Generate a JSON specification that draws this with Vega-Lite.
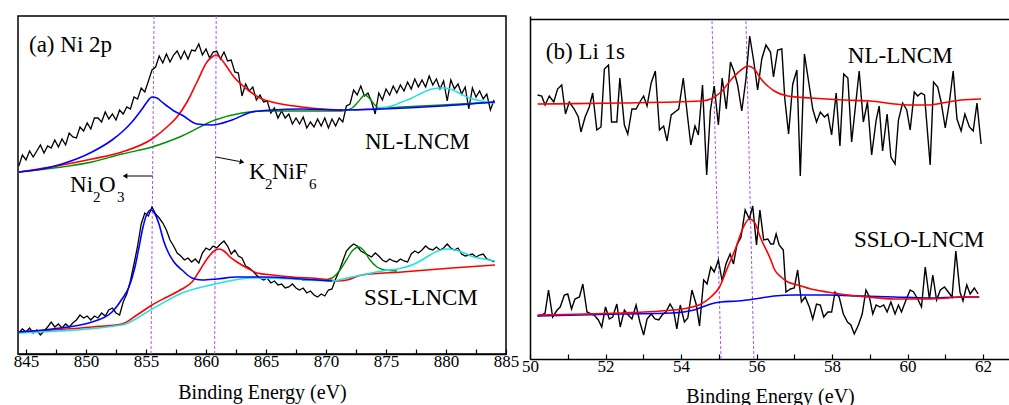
{
"$schema": "https://vega.github.io/schema/vega-lite/v6.json",
"background": "white",
"padding": {"left": 12, "top": 14, "right": 0, "bottom": 0},
"spacing": 24,
"bounds": "flush",
"config": {
 "font": "Liberation Serif",
 "view": {"stroke": null},
 "axis": {"domainColor": "black", "domainWidth": 1.5, "tickColor": "black", "tickWidth": 1.2, "tickSize": -5, "labelFont": "Liberation Serif", "labelFontSize": 17, "labelColor": "black", "titleFont": "Liberation Serif", "titleFontSize": 20, "titleFontWeight": "normal", "titleColor": "black", "grid": false}
},
"datasets": {
 "aDash": [{"e0": 855.42, "i0": 0, "e1": 855.67, "i1": 338}, {"e0": 860.72, "i0": 0, "e1": 860.85, "i1": 338}],
 "aArrow": [{"e0": 855.56, "i0": 178, "e1": 853.4, "i1": 178}, {"e0": 860.83, "i0": 197, "e1": 862.8, "i1": 192.5}],
 "aHeadL": [{"e": 853.25, "i": 178}],
 "aHeadR": [{"e": 863.0, "i": 192}],
 "aText": [{"t": "(a) Ni 2p", "e": 845.25, "i": 302}, {"t": "NL-LNCM", "e": 873.25, "i": 205}, {"t": "SSL-LNCM", "e": 873.17, "i": 49}, {"t": "K", "e": 863.58, "i": 175}, {"t": "NiF", "e": 865.5, "i": 175}, {"t": "Ni", "e": 848.67, "i": 162}, {"t": "O", "e": 851.08, "i": 162}],
 "aSub": [{"t": "2", "e": 864.92, "i": 165}, {"t": "6", "e": 868.58, "i": 165}, {"t": "2", "e": 850.58, "i": 152}, {"t": "3", "e": 852.58, "i": 152}],
 "aT": [{"e":844.4,"i":188},{"e":844.7,"i":199},{"e":845.0,"i":194},{"e":845.3,"i":203},{"e":845.6,"i":197},{"e":845.9,"i":203},{"e":846.2,"i":209},{"e":846.5,"i":201},{"e":846.8,"i":208},{"e":847.1,"i":206},{"e":847.4,"i":214},{"e":847.7,"i":207},{"e":848.0,"i":215},{"e":848.3,"i":209},{"e":848.6,"i":221},{"e":848.9,"i":217},{"e":849.2,"i":216},{"e":849.5,"i":227},{"e":849.8,"i":223},{"e":850.1,"i":231},{"e":850.4,"i":225},{"e":850.7,"i":236},{"e":851.0,"i":236},{"e":851.3,"i":232},{"e":851.6,"i":242},{"e":851.9,"i":235},{"e":852.2,"i":240},{"e":852.5,"i":234},{"e":852.8,"i":244},{"e":853.1,"i":240},{"e":853.4,"i":247},{"e":853.7,"i":245},{"e":854.0,"i":257},{"e":854.3,"i":255},{"e":854.6,"i":266},{"e":854.9,"i":262},{"e":855.2,"i":273},{"e":855.5,"i":284},{"e":855.8,"i":287},{"e":856.1,"i":298},{"e":856.4,"i":291},{"e":856.7,"i":300},{"e":857.0,"i":292},{"e":857.3,"i":299},{"e":857.6,"i":303},{"e":857.9,"i":295},{"e":858.2,"i":303},{"e":858.5,"i":295},{"e":858.8,"i":304},{"e":859.1,"i":303},{"e":859.4,"i":310},{"e":859.7,"i":299},{"e":860.0,"i":305},{"e":860.3,"i":296},{"e":860.6,"i":302},{"e":860.9,"i":303},{"e":861.2,"i":295},{"e":861.5,"i":302},{"e":861.8,"i":293},{"e":862.1,"i":294},{"e":862.4,"i":282},{"e":862.7,"i":281},{"e":863.0,"i":258},{"e":863.3,"i":270},{"e":863.6,"i":263},{"e":863.9,"i":267},{"e":864.2,"i":254},{"e":864.5,"i":259},{"e":864.8,"i":252},{"e":865.1,"i":253},{"e":865.4,"i":241},{"e":865.7,"i":246},{"e":866.0,"i":236},{"e":866.3,"i":243},{"e":866.6,"i":236},{"e":866.9,"i":240},{"e":867.2,"i":230},{"e":867.5,"i":236},{"e":867.8,"i":230},{"e":868.1,"i":237},{"e":868.4,"i":226},{"e":868.7,"i":232},{"e":869.0,"i":227},{"e":869.3,"i":235},{"e":869.6,"i":228},{"e":869.9,"i":236},{"e":870.2,"i":226},{"e":870.5,"i":235},{"e":870.8,"i":228},{"e":871.1,"i":236},{"e":871.4,"i":232},{"e":871.7,"i":248},{"e":872.0,"i":250},{"e":872.3,"i":264},{"e":872.6,"i":259},{"e":872.9,"i":268},{"e":873.2,"i":258},{"e":873.5,"i":261},{"e":873.8,"i":252},{"e":874.1,"i":240},{"e":874.4,"i":261},{"e":874.7,"i":254},{"e":875.0,"i":265},{"e":875.3,"i":259},{"e":875.6,"i":268},{"e":875.9,"i":261},{"e":876.2,"i":269},{"e":876.5,"i":263},{"e":876.8,"i":272},{"e":877.1,"i":265},{"e":877.4,"i":275},{"e":877.7,"i":267},{"e":878.0,"i":274},{"e":878.3,"i":267},{"e":878.6,"i":278},{"e":878.9,"i":269},{"e":879.2,"i":275},{"e":879.5,"i":265},{"e":879.8,"i":273},{"e":880.1,"i":253},{"e":880.4,"i":274},{"e":880.7,"i":265},{"e":881.0,"i":270},{"e":881.3,"i":260},{"e":881.6,"i":267},{"e":881.9,"i":245},{"e":882.2,"i":266},{"e":882.5,"i":257},{"e":882.8,"i":263},{"e":883.1,"i":255},{"e":883.4,"i":260},{"e":883.7,"i":244},{"e":884.0,"i":254}],
 "aB": [{"e":844.4,"i":21},{"e":844.7,"i":25},{"e":845.0,"i":22},{"e":845.3,"i":26},{"e":845.6,"i":21},{"e":845.9,"i":24},{"e":846.2,"i":19},{"e":846.5,"i":23},{"e":846.8,"i":27},{"e":847.1,"i":32},{"e":847.4,"i":27},{"e":847.7,"i":30},{"e":848.0,"i":26},{"e":848.3,"i":30},{"e":848.6,"i":27},{"e":848.9,"i":31},{"e":849.2,"i":34},{"e":849.5,"i":39},{"e":849.8,"i":36},{"e":850.1,"i":38},{"e":850.4,"i":34},{"e":850.7,"i":38},{"e":851.0,"i":36},{"e":851.3,"i":41},{"e":851.6,"i":38},{"e":851.9,"i":44},{"e":852.2,"i":46},{"e":852.5,"i":41},{"e":852.8,"i":39},{"e":853.1,"i":52},{"e":853.4,"i":60},{"e":853.7,"i":73},{"e":854.0,"i":90},{"e":854.3,"i":108},{"e":854.6,"i":130},{"e":854.9,"i":141},{"e":855.2,"i":138},{"e":855.5,"i":147},{"e":855.8,"i":140},{"e":856.1,"i":136},{"e":856.4,"i":131},{"e":856.7,"i":124},{"e":857.0,"i":114},{"e":857.3,"i":108},{"e":857.6,"i":101},{"e":857.9,"i":98},{"e":858.2,"i":94},{"e":858.5,"i":96},{"e":858.8,"i":92},{"e":859.1,"i":95},{"e":859.4,"i":91},{"e":859.7,"i":101},{"e":860.0,"i":106},{"e":860.3,"i":104},{"e":860.6,"i":108},{"e":860.9,"i":106},{"e":861.2,"i":110},{"e":861.5,"i":113},{"e":861.8,"i":108},{"e":862.1,"i":100},{"e":862.4,"i":104},{"e":862.7,"i":98},{"e":863.0,"i":96},{"e":863.3,"i":88},{"e":863.6,"i":86},{"e":863.9,"i":83},{"e":864.2,"i":79},{"e":864.5,"i":76},{"e":864.8,"i":74},{"e":865.1,"i":76},{"e":865.4,"i":71},{"e":865.7,"i":73},{"e":866.0,"i":69},{"e":866.3,"i":70},{"e":866.6,"i":66},{"e":866.9,"i":67},{"e":867.2,"i":70},{"e":867.5,"i":66},{"e":867.8,"i":64},{"e":868.1,"i":66},{"e":868.4,"i":61},{"e":868.7,"i":63},{"e":869.0,"i":59},{"e":869.3,"i":57},{"e":869.6,"i":60},{"e":869.9,"i":58},{"e":870.2,"i":64},{"e":870.5,"i":65},{"e":870.8,"i":75},{"e":871.1,"i":83},{"e":871.4,"i":93},{"e":871.7,"i":103},{"e":872.0,"i":107},{"e":872.3,"i":110},{"e":872.6,"i":108},{"e":872.9,"i":103},{"e":873.2,"i":101},{"e":873.5,"i":99},{"e":873.8,"i":97},{"e":874.1,"i":101},{"e":874.4,"i":98},{"e":874.7,"i":94},{"e":875.0,"i":92},{"e":875.3,"i":95},{"e":875.6,"i":93},{"e":875.9,"i":92},{"e":876.2,"i":95},{"e":876.5,"i":93},{"e":876.8,"i":92},{"e":877.1,"i":100},{"e":877.4,"i":103},{"e":877.7,"i":101},{"e":878.0,"i":104},{"e":878.3,"i":108},{"e":878.6,"i":105},{"e":878.9,"i":104},{"e":879.2,"i":107},{"e":879.5,"i":104},{"e":879.8,"i":106},{"e":880.1,"i":110},{"e":880.4,"i":106},{"e":880.7,"i":104},{"e":881.0,"i":106},{"e":881.3,"i":100},{"e":881.6,"i":98},{"e":881.9,"i":99},{"e":882.2,"i":100},{"e":882.5,"i":97},{"e":882.8,"i":99},{"e":883.1,"i":100},{"e":883.4,"i":95},{"e":883.7,"i":94},{"e":884.0,"i":92}],
 "aTblue": [{"e":844.4,"i":182},{"e":846.33,"i":185},{"e":848.0,"i":190},{"e":850.5,"i":202},{"e":852.17,"i":214},{"e":853.0,"i":222},{"e":853.83,"i":232},{"e":854.67,"i":245},{"e":855.08,"i":252},{"e":855.5,"i":257},{"e":855.92,"i":256},{"e":856.33,"i":252},{"e":856.75,"i":248},{"e":857.33,"i":243},{"e":858.0,"i":239},{"e":859.25,"i":230},{"e":860.5,"i":229},{"e":862.17,"i":234},{"e":863.83,"i":242},{"e":865.5,"i":244},{"e":868.0,"i":245},{"e":871.33,"i":244},{"e":874.67,"i":245},{"e":879.67,"i":248},{"e":884.08,"i":252}],
 "aTred": [{"e":844.4,"i":182},{"e":848.0,"i":189},{"e":850.5,"i":195},{"e":853.0,"i":202},{"e":855.5,"i":215},{"e":856.75,"i":227},{"e":857.58,"i":237},{"e":858.42,"i":252},{"e":859.25,"i":272},{"e":860.08,"i":292},{"e":860.5,"i":297},{"e":860.83,"i":299},{"e":861.33,"i":294},{"e":861.75,"i":287},{"e":862.33,"i":277},{"e":863.0,"i":269},{"e":863.83,"i":261},{"e":864.67,"i":255},{"e":865.5,"i":252},{"e":866.75,"i":249},{"e":868.0,"i":247},{"e":869.67,"i":245},{"e":871.33,"i":244}],
 "aTgreen": [{"e":844.4,"i":182},{"e":848.0,"i":187},{"e":850.5,"i":192},{"e":853.0,"i":200},{"e":855.5,"i":207},{"e":858.0,"i":218},{"e":860.75,"i":234},{"e":863.0,"i":241},{"e":864.67,"i":243},{"e":868.0,"i":243},{"e":871.33,"i":243},{"e":872.17,"i":246},{"e":872.67,"i":252},{"e":873.25,"i":259},{"e":873.67,"i":255},{"e":874.08,"i":249},{"e":874.5,"i":246},{"e":876.33,"i":247},{"e":879.67,"i":249},{"e":884.08,"i":252}],
 "aTcyan": [{"e":874.25,"i":246},{"e":875.5,"i":248},{"e":876.33,"i":252},{"e":877.17,"i":256},{"e":878.0,"i":261},{"e":878.83,"i":265},{"e":879.67,"i":266},{"e":880.33,"i":265},{"e":880.92,"i":262},{"e":881.75,"i":257},{"e":882.58,"i":254},{"e":883.42,"i":252},{"e":884.08,"i":251}],
 "aBblue": [{"e":844.4,"i":22},{"e":847.17,"i":25},{"e":850.5,"i":32},{"e":852.17,"i":42},{"e":853.0,"i":55},{"e":853.58,"i":67},{"e":854.08,"i":87},{"e":854.42,"i":107},{"e":854.75,"i":127},{"e":855.08,"i":140},{"e":855.42,"i":144},{"e":855.75,"i":140},{"e":856.08,"i":130},{"e":856.5,"i":112},{"e":856.92,"i":100},{"e":857.33,"i":92},{"e":858.0,"i":84},{"e":858.83,"i":76},{"e":859.67,"i":74},{"e":860.92,"i":75},{"e":862.58,"i":77},{"e":864.83,"i":77},{"e":868.0,"i":75},{"e":870.5,"i":73}],
 "aBred": [{"e":844.4,"i":22},{"e":850.5,"i":27},{"e":853.0,"i":30},{"e":854.25,"i":39},{"e":855.5,"i":49},{"e":856.75,"i":57},{"e":858.0,"i":65},{"e":858.83,"i":72},{"e":859.5,"i":84},{"e":860.08,"i":95},{"e":860.67,"i":103},{"e":861.08,"i":105},{"e":861.5,"i":103},{"e":862.0,"i":97},{"e":862.58,"i":92},{"e":863.42,"i":86},{"e":864.25,"i":81},{"e":865.5,"i":79},{"e":867.17,"i":77},{"e":869.67,"i":75},{"e":870.92,"i":73},{"e":871.75,"i":74},{"e":873.0,"i":79},{"e":876.33,"i":82},{"e":880.5,"i":86},{"e":884.08,"i":89}],
 "aBcyan": [{"e":844.4,"i":21},{"e":853.0,"i":29},{"e":855.5,"i":45},{"e":858.0,"i":61},{"e":860.75,"i":70},{"e":863.83,"i":76},{"e":867.17,"i":75},{"e":870.5,"i":73},{"e":871.75,"i":76},{"e":873.0,"i":79},{"e":874.67,"i":83},{"e":876.33,"i":86},{"e":877.17,"i":89},{"e":878.0,"i":94},{"e":878.67,"i":99},{"e":879.33,"i":103},{"e":880.08,"i":105},{"e":880.75,"i":104},{"e":881.5,"i":101},{"e":882.33,"i":97},{"e":883.17,"i":95},{"e":884.08,"i":93}],
 "aBgreen": [{"e":868.0,"i":74},{"e":869.67,"i":74},{"e":870.5,"i":76},{"e":871.17,"i":84},{"e":871.75,"i":95},{"e":872.25,"i":104},{"e":872.75,"i":107},{"e":873.17,"i":103},{"e":873.67,"i":94},{"e":874.25,"i":87},{"e":874.92,"i":84},{"e":875.92,"i":83}],
 "bDash": [{"e0": 55.06, "i0": 0, "e1": 54.82, "i1": 340}, {"e0": 55.93, "i0": 0, "e1": 55.72, "i1": 340}],
 "bText": [{"t": "(b) Li 1s", "e": 50.42, "i": 300}, {"t": "NL-LNCM", "e": 58.42, "i": 296}, {"t": "SSLO-LNCM", "e": 58.58, "i": 112}],
 "bT": [{"e":50.20,"i":264},{"e":50.31,"i":263},{"e":50.40,"i":254},{"e":50.51,"i":263},{"e":50.63,"i":257},{"e":50.73,"i":270},{"e":50.84,"i":274},{"e":50.94,"i":245},{"e":51.04,"i":257},{"e":51.17,"i":250},{"e":51.28,"i":242},{"e":51.35,"i":227},{"e":51.46,"i":242},{"e":51.57,"i":252},{"e":51.66,"i":266},{"e":51.77,"i":229},{"e":51.88,"i":232},{"e":51.97,"i":290},{"e":52.08,"i":294},{"e":52.16,"i":237},{"e":52.30,"i":237},{"e":52.38,"i":281},{"e":52.50,"i":234},{"e":52.59,"i":225},{"e":52.70,"i":250},{"e":52.81,"i":250},{"e":52.91,"i":257},{"e":53.01,"i":263},{"e":53.10,"i":253},{"e":53.21,"i":276},{"e":53.32,"i":288},{"e":53.43,"i":229},{"e":53.54,"i":233},{"e":53.63,"i":218},{"e":53.74,"i":244},{"e":53.84,"i":247},{"e":53.94,"i":250},{"e":54.06,"i":281},{"e":54.16,"i":247},{"e":54.26,"i":214},{"e":54.37,"i":233},{"e":54.46,"i":224},{"e":54.57,"i":274},{"e":54.68,"i":184},{"e":54.78,"i":249},{"e":54.88,"i":273},{"e":54.99,"i":234},{"e":55.09,"i":281},{"e":55.20,"i":250},{"e":55.31,"i":297},{"e":55.41,"i":287},{"e":55.50,"i":274},{"e":55.61,"i":248},{"e":55.72,"i":280},{"e":55.82,"i":323},{"e":55.93,"i":297},{"e":56.03,"i":269},{"e":56.14,"i":300},{"e":56.25,"i":314},{"e":56.37,"i":307},{"e":56.45,"i":282},{"e":56.56,"i":309},{"e":56.67,"i":310},{"e":56.75,"i":260},{"e":56.85,"i":225},{"e":56.96,"i":275},{"e":57.07,"i":289},{"e":57.16,"i":183},{"e":57.27,"i":305},{"e":57.37,"i":280},{"e":57.49,"i":250},{"e":57.59,"i":237},{"e":57.69,"i":247},{"e":57.80,"i":242},{"e":57.89,"i":245},{"e":57.99,"i":224},{"e":58.11,"i":266},{"e":58.21,"i":213},{"e":58.31,"i":285},{"e":58.42,"i":281},{"e":58.52,"i":217},{"e":58.72,"i":288},{"e":58.83,"i":237},{"e":58.94,"i":257},{"e":59.05,"i":204},{"e":59.17,"i":239},{"e":59.25,"i":253},{"e":59.34,"i":208},{"e":59.46,"i":245},{"e":59.56,"i":202},{"e":59.67,"i":195},{"e":59.76,"i":239},{"e":59.87,"i":256},{"e":59.98,"i":249},{"e":60.07,"i":229},{"e":60.18,"i":267},{"e":60.27,"i":263},{"e":60.36,"i":266},{"e":60.45,"i":264},{"e":60.60,"i":194},{"e":60.69,"i":277},{"e":60.80,"i":272},{"e":60.89,"i":257},{"e":61.00,"i":231},{"e":61.11,"i":257},{"e":61.21,"i":288},{"e":61.31,"i":240},{"e":61.42,"i":228},{"e":61.52,"i":245},{"e":61.64,"i":232},{"e":61.74,"i":228},{"e":61.84,"i":256},{"e":61.95,"i":215}],
 "bTred": [{"e":50.20,"i":255},{"e":52.41,"i":256},{"e":54.53,"i":258},{"e":54.79,"i":260},{"e":55.06,"i":267},{"e":55.32,"i":279},{"e":55.59,"i":289},{"e":55.77,"i":293},{"e":55.94,"i":290},{"e":56.12,"i":280},{"e":56.33,"i":272},{"e":56.47,"i":268},{"e":56.83,"i":263},{"e":57.44,"i":261},{"e":58.33,"i":259},{"e":59.03,"i":258},{"e":59.65,"i":255},{"e":60.09,"i":254},{"e":60.54,"i":254},{"e":61.07,"i":257},{"e":61.42,"i":259},{"e":61.95,"i":260}],
 "bB": [{"e":50.20,"i":43},{"e":50.31,"i":44},{"e":50.40,"i":46},{"e":50.49,"i":69},{"e":50.60,"i":42},{"e":50.72,"i":49},{"e":50.80,"i":52},{"e":50.91,"i":64},{"e":51.00,"i":65},{"e":51.10,"i":50},{"e":51.19,"i":60},{"e":51.31,"i":62},{"e":51.40,"i":75},{"e":51.51,"i":47},{"e":51.62,"i":45},{"e":51.70,"i":44},{"e":51.81,"i":39},{"e":51.90,"i":32},{"e":52.00,"i":52},{"e":52.10,"i":40},{"e":52.19,"i":42},{"e":52.30,"i":55},{"e":52.39,"i":32},{"e":52.50,"i":49},{"e":52.60,"i":44},{"e":52.70,"i":40},{"e":52.81,"i":54},{"e":52.91,"i":37},{"e":53.01,"i":24},{"e":53.10,"i":40},{"e":53.21,"i":45},{"e":53.31,"i":40},{"e":53.41,"i":39},{"e":53.50,"i":44},{"e":53.60,"i":47},{"e":53.71,"i":55},{"e":53.80,"i":49},{"e":53.89,"i":30},{"e":53.98,"i":54},{"e":54.09,"i":37},{"e":54.18,"i":41},{"e":54.29,"i":69},{"e":54.40,"i":55},{"e":54.49,"i":33},{"e":54.60,"i":79},{"e":54.69,"i":75},{"e":54.79,"i":92},{"e":54.88,"i":87},{"e":54.99,"i":99},{"e":55.09,"i":78},{"e":55.19,"i":95},{"e":55.30,"i":105},{"e":55.39,"i":95},{"e":55.48,"i":114},{"e":55.59,"i":122},{"e":55.70,"i":149},{"e":55.81,"i":140},{"e":55.90,"i":153},{"e":56.00,"i":114},{"e":56.09,"i":149},{"e":56.19,"i":119},{"e":56.30,"i":120},{"e":56.38,"i":115},{"e":56.45,"i":115},{"e":56.52,"i":125},{"e":56.60,"i":114},{"e":56.71,"i":109},{"e":56.78,"i":67},{"e":56.90,"i":70},{"e":57.00,"i":71},{"e":57.09,"i":89},{"e":57.19,"i":57},{"e":57.29,"i":62},{"e":57.40,"i":52},{"e":57.49,"i":40},{"e":57.59,"i":55},{"e":57.69,"i":54},{"e":57.78,"i":42},{"e":57.89,"i":47},{"e":57.99,"i":47},{"e":58.08,"i":67},{"e":58.19,"i":62},{"e":58.30,"i":45},{"e":58.41,"i":37},{"e":58.50,"i":34},{"e":58.59,"i":25},{"e":58.70,"i":34},{"e":58.80,"i":45},{"e":58.90,"i":69},{"e":58.99,"i":62},{"e":59.08,"i":45},{"e":59.17,"i":54},{"e":59.27,"i":52},{"e":59.37,"i":54},{"e":59.46,"i":47},{"e":59.56,"i":57},{"e":59.67,"i":45},{"e":59.76,"i":54},{"e":59.84,"i":47},{"e":59.96,"i":59},{"e":60.07,"i":69},{"e":60.16,"i":67},{"e":60.27,"i":60},{"e":60.37,"i":52},{"e":60.47,"i":92},{"e":60.58,"i":60},{"e":60.67,"i":84},{"e":60.77,"i":59},{"e":60.87,"i":69},{"e":60.98,"i":72},{"e":61.08,"i":67},{"e":61.18,"i":62},{"e":61.28,"i":108},{"e":61.39,"i":67},{"e":61.47,"i":58},{"e":61.57,"i":74},{"e":61.66,"i":65},{"e":61.77,"i":71},{"e":61.87,"i":65}],
 "bBred": [{"e":50.20,"i":44},{"e":52.41,"i":46},{"e":53.47,"i":48},{"e":54.18,"i":51},{"e":54.53,"i":55},{"e":54.79,"i":62},{"e":55.02,"i":72},{"e":55.24,"i":92},{"e":55.46,"i":112},{"e":55.63,"i":130},{"e":55.81,"i":140},{"e":55.94,"i":137},{"e":56.12,"i":120},{"e":56.38,"i":99},{"e":56.47,"i":90},{"e":56.65,"i":82},{"e":56.83,"i":77},{"e":57.09,"i":74},{"e":57.44,"i":70},{"e":57.88,"i":67},{"e":58.41,"i":64},{"e":58.94,"i":62},{"e":59.65,"i":60},{"e":60.09,"i":60},{"e":60.54,"i":60},{"e":61.07,"i":61},{"e":61.42,"i":62},{"e":61.90,"i":62}],
 "bBblue": [{"e":50.20,"i":43},{"e":52.41,"i":45},{"e":53.74,"i":46},{"e":54.35,"i":49},{"e":54.57,"i":52},{"e":54.79,"i":55},{"e":55.06,"i":57},{"e":55.50,"i":58},{"e":55.94,"i":60},{"e":56.12,"i":61},{"e":56.47,"i":63},{"e":57.00,"i":64},{"e":57.88,"i":64},{"e":58.77,"i":63},{"e":59.65,"i":62},{"e":60.54,"i":61},{"e":61.42,"i":62},{"e":61.90,"i":62}]
},
"hconcat": [
 {
  "width": 488, "height": 338,
  "view": {"stroke": "black", "strokeWidth": 1.5},
  "resolve": {"axis": {"x": "independent", "y": "independent"}},
  "layer": [
   {"data": {"name": "aDash"}, "mark": {"type": "rule", "color": "#a855f7", "strokeDash": [3, 2], "strokeWidth": 1},
    "encoding": {
     "x": {"field": "e0", "type": "quantitative", "scale": {"domain": [844.333, 885], "nice": false, "zero": false}, "axis": {"orient": "bottom", "title": "Binding Energy (eV)", "values": [845,847.5,850,852.5,855,857.5,860,862.5,865,867.5,870,872.5,875,877.5,880,882.5,885], "labelExpr": "datum.value % 5 === 0 ? datum.label : ''", "labelFlush": false, "labelOverlap": false, "labelPadding": 4, "titlePadding": 13, "labelFont": "Liberation Serif", "titleFont": "Liberation Serif", "labelFontSize": 17, "titleFontSize": 20}},
     "x2": {"field": "e1"},
     "y": {"field": "i0", "type": "quantitative", "scale": {"domain": [0, 338], "nice": false, "zero": false}, "axis": null},
     "y2": {"field": "i1"}}},
   {"data": {"name": "aT"}, "mark": {"type": "line", "color": "black", "strokeWidth": 1.3},
    "encoding": {"x": {"field": "e", "type": "quantitative", "scale": {"domain": [844.333, 885], "nice": false, "zero": false}, "axis": null}, "y": {"field": "i", "type": "quantitative", "scale": {"domain": [0, 338], "nice": false, "zero": false}, "axis": null}}},
   {"data": {"name": "aB"}, "mark": {"type": "line", "color": "black", "strokeWidth": 1.3},
    "encoding": {"x": {"field": "e", "type": "quantitative", "scale": {"domain": [844.333, 885], "nice": false, "zero": false}, "axis": null}, "y": {"field": "i", "type": "quantitative", "scale": {"domain": [0, 338], "nice": false, "zero": false}, "axis": null}}},
   {"data": {"name": "aTgreen"}, "mark": {"type": "line", "color": "#009000", "strokeWidth": 1.4, "interpolate": "monotone"},
    "encoding": {"x": {"field": "e", "type": "quantitative", "scale": {"domain": [844.333, 885], "nice": false, "zero": false}, "axis": null}, "y": {"field": "i", "type": "quantitative", "scale": {"domain": [0, 338], "nice": false, "zero": false}, "axis": null}}},
   {"data": {"name": "aTcyan"}, "mark": {"type": "line", "color": "#1ee3e3", "strokeWidth": 1.4, "interpolate": "monotone"},
    "encoding": {"x": {"field": "e", "type": "quantitative", "scale": {"domain": [844.333, 885], "nice": false, "zero": false}, "axis": null}, "y": {"field": "i", "type": "quantitative", "scale": {"domain": [0, 338], "nice": false, "zero": false}, "axis": null}}},
   {"data": {"name": "aTred"}, "mark": {"type": "line", "color": "#ff0000", "strokeWidth": 1.6, "interpolate": "monotone"},
    "encoding": {"x": {"field": "e", "type": "quantitative", "scale": {"domain": [844.333, 885], "nice": false, "zero": false}, "axis": null}, "y": {"field": "i", "type": "quantitative", "scale": {"domain": [0, 338], "nice": false, "zero": false}, "axis": null}}},
   {"data": {"name": "aTblue"}, "mark": {"type": "line", "color": "#0000ff", "strokeWidth": 1.6, "interpolate": "monotone"},
    "encoding": {"x": {"field": "e", "type": "quantitative", "scale": {"domain": [844.333, 885], "nice": false, "zero": false}, "axis": null}, "y": {"field": "i", "type": "quantitative", "scale": {"domain": [0, 338], "nice": false, "zero": false}, "axis": null}}},
   {"data": {"name": "aBgreen"}, "mark": {"type": "line", "color": "#009000", "strokeWidth": 1.4, "interpolate": "monotone"},
    "encoding": {"x": {"field": "e", "type": "quantitative", "scale": {"domain": [844.333, 885], "nice": false, "zero": false}, "axis": null}, "y": {"field": "i", "type": "quantitative", "scale": {"domain": [0, 338], "nice": false, "zero": false}, "axis": null}}},
   {"data": {"name": "aBred"}, "mark": {"type": "line", "color": "#ff0000", "strokeWidth": 1.6, "interpolate": "monotone"},
    "encoding": {"x": {"field": "e", "type": "quantitative", "scale": {"domain": [844.333, 885], "nice": false, "zero": false}, "axis": null}, "y": {"field": "i", "type": "quantitative", "scale": {"domain": [0, 338], "nice": false, "zero": false}, "axis": null}}},
   {"data": {"name": "aBcyan"}, "mark": {"type": "line", "color": "#1ee3e3", "strokeWidth": 1.6, "interpolate": "monotone"},
    "encoding": {"x": {"field": "e", "type": "quantitative", "scale": {"domain": [844.333, 885], "nice": false, "zero": false}, "axis": null}, "y": {"field": "i", "type": "quantitative", "scale": {"domain": [0, 338], "nice": false, "zero": false}, "axis": null}}},
   {"data": {"name": "aBblue"}, "mark": {"type": "line", "color": "#0000ff", "strokeWidth": 1.6, "interpolate": "monotone"},
    "encoding": {"x": {"field": "e", "type": "quantitative", "scale": {"domain": [844.333, 885], "nice": false, "zero": false}, "axis": null}, "y": {"field": "i", "type": "quantitative", "scale": {"domain": [0, 338], "nice": false, "zero": false}, "axis": null}}},
   {"data": {"name": "aArrow"}, "mark": {"type": "rule", "color": "black", "strokeWidth": 1},
    "encoding": {"x": {"field": "e0", "type": "quantitative", "scale": {"domain": [844.333, 885], "nice": false, "zero": false}, "axis": null}, "x2": {"field": "e1"}, "y": {"field": "i0", "type": "quantitative", "scale": {"domain": [0, 338], "nice": false, "zero": false}, "axis": null}, "y2": {"field": "i1"}}},
   {"data": {"name": "aHeadL"}, "mark": {"type": "point", "shape": "triangle-left", "filled": true, "color": "black", "size": 30, "opacity": 1},
    "encoding": {"x": {"field": "e", "type": "quantitative", "scale": {"domain": [844.333, 885], "nice": false, "zero": false}, "axis": null}, "y": {"field": "i", "type": "quantitative", "scale": {"domain": [0, 338], "nice": false, "zero": false}, "axis": null}}},
   {"data": {"name": "aHeadR"}, "mark": {"type": "point", "shape": "triangle-right", "filled": true, "color": "black", "size": 30, "opacity": 1, "angle": 13},
    "encoding": {"x": {"field": "e", "type": "quantitative", "scale": {"domain": [844.333, 885], "nice": false, "zero": false}, "axis": null}, "y": {"field": "i", "type": "quantitative", "scale": {"domain": [0, 338], "nice": false, "zero": false}, "axis": null}}},
   {"data": {"name": "aText"}, "mark": {"type": "text", "font": "Liberation Serif", "fontSize": 23, "color": "black", "align": "left", "baseline": "alphabetic"},
    "encoding": {"x": {"field": "e", "type": "quantitative", "scale": {"domain": [844.333, 885], "nice": false, "zero": false}, "axis": null}, "y": {"field": "i", "type": "quantitative", "scale": {"domain": [0, 338], "nice": false, "zero": false}, "axis": null}, "text": {"field": "t"}}},
   {"data": {"name": "aSub"}, "mark": {"type": "text", "font": "Liberation Serif", "fontSize": 15, "color": "black", "align": "left", "baseline": "alphabetic"},
    "encoding": {"x": {"field": "e", "type": "quantitative", "scale": {"domain": [844.333, 885], "nice": false, "zero": false}, "axis": null}, "y": {"field": "i", "type": "quantitative", "scale": {"domain": [0, 338], "nice": false, "zero": false}, "axis": null}, "text": {"field": "t"}}}
  ]
 },
 {
  "width": 480, "height": 343,
  "resolve": {"axis": {"x": "independent", "y": "independent"}},
  "layer": [
   {"data": {"name": "bDash"}, "mark": {"type": "rule", "color": "#a855f7", "strokeDash": [3, 2], "strokeWidth": 1},
    "encoding": {
     "x": {"field": "e0", "type": "quantitative", "scale": {"domain": [50, 62.715], "nice": false, "zero": false}, "axis": {"orient": "bottom", "title": "Binding Energy (eV)", "values": [50,51,52,53,54,55,56,57,58,59,60,61,62], "labelExpr": "datum.value % 2 === 0 ? datum.label : ''", "labelFlush": false, "labelOverlap": false, "labelPadding": 4, "titlePadding": 12, "labelFont": "Liberation Serif", "titleFont": "Liberation Serif", "labelFontSize": 17, "titleFontSize": 20}},
     "x2": {"field": "e1"},
     "y": {"field": "i0", "type": "quantitative", "scale": {"domain": [0, 343], "nice": false, "zero": false}, "axis": {"orient": "left", "ticks": false, "labels": false, "title": null}},
     "y2": {"field": "i1"}}},
   {"data": {"name": "bT"}, "mark": {"type": "line", "color": "black", "strokeWidth": 1.4},
    "encoding": {
     "x": {"field": "e", "type": "quantitative", "scale": {"domain": [50, 62.715], "nice": false, "zero": false}, "axis": {"orient": "top", "ticks": false, "labels": false, "title": null, "offset": -3}},
     "y": {"field": "i", "type": "quantitative", "scale": {"domain": [0, 343], "nice": false, "zero": false}, "axis": null}}},
   {"data": {"name": "bB"}, "mark": {"type": "line", "color": "black", "strokeWidth": 1.4},
    "encoding": {"x": {"field": "e", "type": "quantitative", "scale": {"domain": [50, 62.715], "nice": false, "zero": false}, "axis": null}, "y": {"field": "i", "type": "quantitative", "scale": {"domain": [0, 343], "nice": false, "zero": false}, "axis": null}}},
   {"data": {"name": "bTred"}, "mark": {"type": "line", "color": "#ff0000", "strokeWidth": 1.6, "interpolate": "monotone"},
    "encoding": {"x": {"field": "e", "type": "quantitative", "scale": {"domain": [50, 62.715], "nice": false, "zero": false}, "axis": null}, "y": {"field": "i", "type": "quantitative", "scale": {"domain": [0, 343], "nice": false, "zero": false}, "axis": null}}},
   {"data": {"name": "bBblue"}, "mark": {"type": "line", "color": "#0000ff", "strokeWidth": 1.6, "interpolate": "monotone"},
    "encoding": {"x": {"field": "e", "type": "quantitative", "scale": {"domain": [50, 62.715], "nice": false, "zero": false}, "axis": null}, "y": {"field": "i", "type": "quantitative", "scale": {"domain": [0, 343], "nice": false, "zero": false}, "axis": null}}},
   {"data": {"name": "bBred"}, "mark": {"type": "line", "color": "#ff0000", "strokeWidth": 1.6, "interpolate": "monotone"},
    "encoding": {"x": {"field": "e", "type": "quantitative", "scale": {"domain": [50, 62.715], "nice": false, "zero": false}, "axis": null}, "y": {"field": "i", "type": "quantitative", "scale": {"domain": [0, 343], "nice": false, "zero": false}, "axis": null}}},
   {"data": {"name": "bText"}, "mark": {"type": "text", "font": "Liberation Serif", "fontSize": 23, "color": "black", "align": "left", "baseline": "alphabetic"},
    "encoding": {"x": {"field": "e", "type": "quantitative", "scale": {"domain": [50, 62.715], "nice": false, "zero": false}, "axis": null}, "y": {"field": "i", "type": "quantitative", "scale": {"domain": [0, 343], "nice": false, "zero": false}, "axis": null}, "text": {"field": "t"}}}
  ]
 }
]
}
